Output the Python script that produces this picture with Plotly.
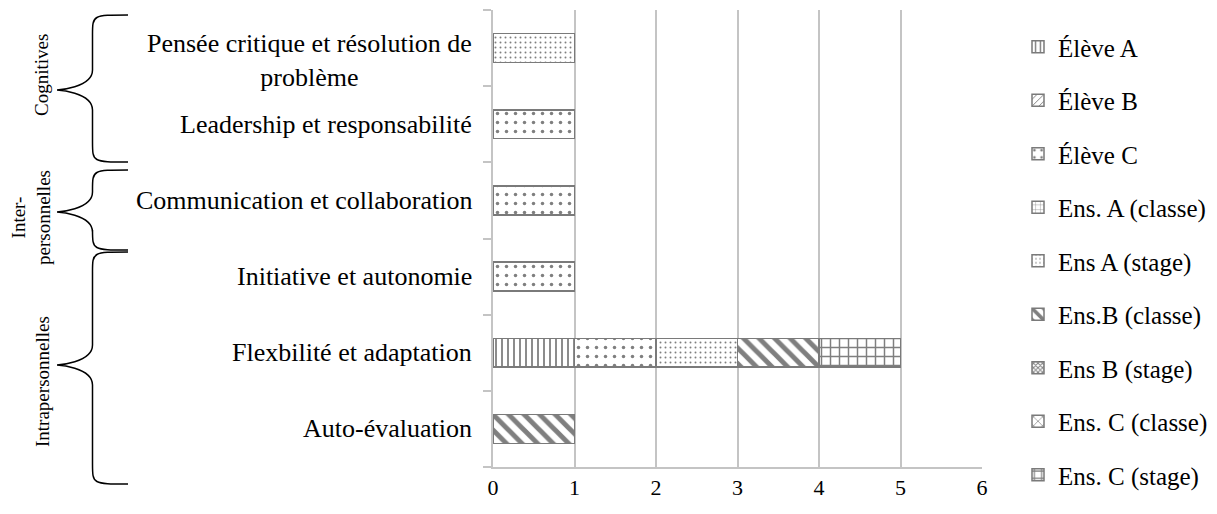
import plotly.graph_objects as go

# ---- data ----
categories = ["Auto-évaluation", "Flexbilité et adaptation", "Initiative et autonomie",
              "Communication et collaboration", "Leadership et responsabilité",
              "Pensée critique et résolution de problème"]
category_labels = ["Auto-évaluation", "Flexbilité et adaptation", "Initiative et autonomie",
                   "Communication et collaboration", "Leadership et responsabilité",
                   "Pensée critique et résolution de<br>problème"]
series_names = ["Élève A", "Élève B", "Élève C", "Ens. A (classe)", "Ens A (stage)",
                "Ens.B (classe)", "Ens B (stage)", "Ens. C (classe)", "Ens. C (stage)"]
eleve_a = [0, 1, 0, 0, 0, 0]
eleve_b = [0, 0, 0, 0, 0, 0]
eleve_c = [0, 1, 1, 1, 1, 0]
ens_a_classe = [0, 0, 0, 0, 0, 0]
ens_a_stage = [0, 1, 0, 0, 0, 1]
ens_b_classe = [1, 1, 0, 0, 0, 0]
ens_b_stage = [0, 0, 0, 0, 0, 0]
ens_c_classe = [0, 0, 0, 0, 0, 0]
ens_c_stage = [0, 1, 0, 0, 0, 0]
x_ticks = [0, 1, 2, 3, 4, 5, 6]
groups = ["Cognitives", "Inter-<br>personnelles", "Intrapersonnelles"]

series_values = [eleve_a, eleve_b, eleve_c, ens_a_classe, ens_a_stage,
                 ens_b_classe, ens_b_stage, ens_c_classe, ens_c_stage]
patterns = [
    dict(shape="|", size=6, solidity=0.3),
    dict(shape="/", size=6, solidity=0.2),
    dict(shape=".", size=9, solidity=0.12),
    dict(shape="+", size=6, solidity=0.15),
    dict(shape=".", size=5, solidity=0.12),
    dict(shape="\\", size=11, solidity=0.45),
    dict(shape="x", size=4, solidity=0.5),
    dict(shape="x", size=8, solidity=0.2),
    dict(shape="+", size=9, solidity=0.3),
]

FONT = "Liberation Serif"
W, H = 1217, 514
L, R, T, B = 493, 982, 10, 467

def px(x):
    return (x - L) / (R - L)

def py(y):
    return (B - y) / (B - T)

fig = go.Figure()
for i, (name, vals) in enumerate(zip(series_names, series_values)):
    p = patterns[i]
    fig.add_trace(go.Bar(
        y=categories, x=[v if v else None for v in vals], name=name, orientation="h",
        width=0.38, legendgroup=name,
        marker=dict(color="white", line=dict(color="#7a7a7a", width=1.5),
                    pattern=dict(shape=p["shape"], size=p["size"], solidity=p["solidity"],
                                 fgcolor="black", bgcolor="white", fillmode="overlay")),
    ))

# category labels as annotations (centered multi-line)
annotations = []
for c, lab in zip(categories, category_labels):
    multi = "<br>" in lab
    annotations.append(dict(x=px(474), xref="paper", y=c, yref="y", text=lab,
                            showarrow=False, xanchor="right", yanchor="middle", align="center",
                            yshift=-12 if multi else 0,
                            font=dict(family=FONT, size=26, color="black")))

# braces
def brace(x_end, x_tip, y_top, y_bot, y_mid):
    xm = x_tip + (x_end - x_tip) * 0.5
    k = 20
    d = (f"M {px(x_end)},{py(y_top)} "
         f"C {px(xm)},{py(y_top)} {px(xm)},{py(y_top)} {px(xm)},{py(y_top+k)} "
         f"L {px(xm)},{py(y_mid-k)} "
         f"C {px(xm)},{py(y_mid-2)} {px(x_tip)},{py(y_mid)} {px(x_tip)},{py(y_mid)} "
         f"C {px(x_tip)},{py(y_mid)} {px(xm)},{py(y_mid+2)} {px(xm)},{py(y_mid+k)} "
         f"L {px(xm)},{py(y_bot-k)} "
         f"C {px(xm)},{py(y_bot)} {px(xm)},{py(y_bot)} {px(x_end)},{py(y_bot)}")
    return dict(type="path", path=d, xref="paper", yref="paper",
                line=dict(color="black", width=1.5))

shapes = [
    brace(128, 57, 15, 162, 90),
    brace(128, 57, 170, 250, 212),
    brace(128, 57, 252, 484, 365),
]

gfont = dict(family=FONT, size=19, color="black")
annotations += [
    dict(x=px(42), y=py(75), xref="paper", yref="paper", text=groups[0], textangle=-90,
         xanchor="center", yanchor="middle", showarrow=False, font=gfont),
    dict(x=px(31), y=py(218), xref="paper", yref="paper", text=groups[1], textangle=-90,
         xanchor="center", yanchor="middle", showarrow=False, align="center", font=gfont),
    dict(x=px(42), y=py(382), xref="paper", yref="paper", text=groups[2], textangle=-90,
         xanchor="center", yanchor="middle", showarrow=False, font=gfont),
]

fig.update_layout(
    width=W, height=H,
    margin=dict(l=L, r=W - R, t=T, b=H - B, pad=0, autoexpand=False),
    barmode="stack",
    plot_bgcolor="white", paper_bgcolor="white",
    font=dict(family=FONT, size=22, color="black"),
    shapes=shapes, annotations=annotations,
    legend=dict(x=px(1018), xanchor="left", y=py(24), yanchor="top",
                traceorder="grouped", tracegroupgap=18, maxheight=600,
                font=dict(family=FONT, size=25, color="black"),
                itemwidth=30, bgcolor="rgba(0,0,0,0)"),
    xaxis=dict(range=[0, 6], tickvals=x_ticks, showgrid=True, gridcolor="#c4c4c4", gridwidth=2,
               zeroline=False, showline=True, linecolor="#c4c4c4", linewidth=2,
               ticks="", tickfont=dict(family=FONT, size=22, color="black")),
    yaxis=dict(categoryorder="array", categoryarray=categories, showticklabels=False,
               tickson="boundaries", ticks="outside", ticklen=8, tickcolor="#c4c4c4", tickwidth=2,
               showline=True, linecolor="#c4c4c4", linewidth=2, showgrid=False,
               range=[-0.5, 5.5]),
)

fig.write_html("out.html", config={"displayModeBar": False},
               post_script="document.body.style.margin='0';")
